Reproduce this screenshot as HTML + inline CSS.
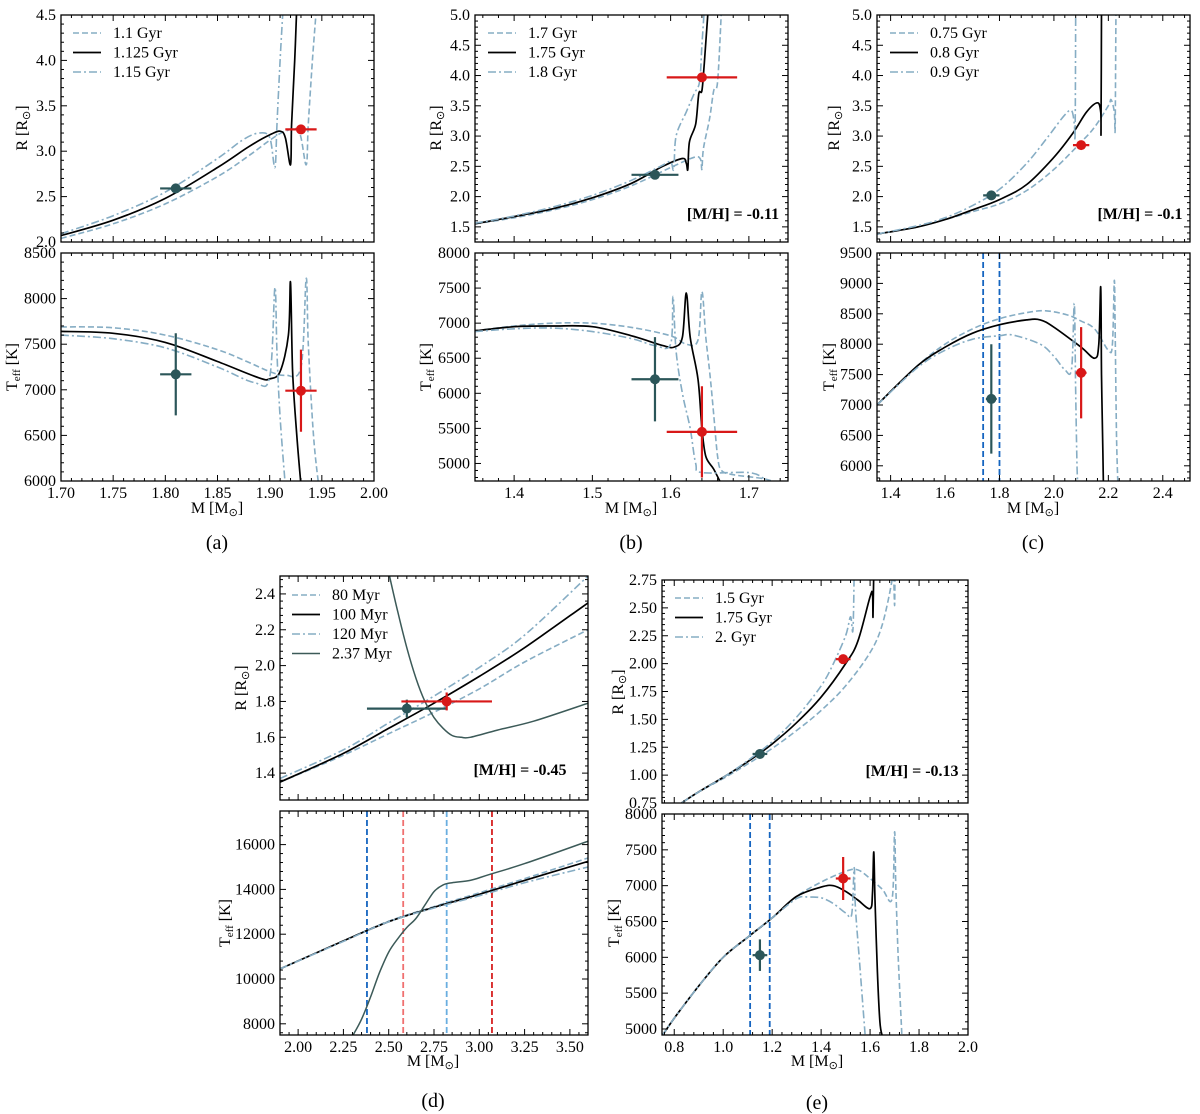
<!DOCTYPE html>
<html><head><meta charset="utf-8">
<style>
body{margin:0;background:#fff;}
svg{display:block;font-family:"Liberation Serif",serif;}
</style></head>
<body>
<svg id="fig" width="1200" height="1114" viewBox="0 0 1200 1114" xmlns="http://www.w3.org/2000/svg"></svg>
<script>
// ===== Panel (a) data =====
const a_legend = ["1.1 Gyr","1.125 Gyr","1.15 Gyr"];
const a_R_dash = [[1.70,2.04],[1.75,2.2],[1.80,2.42],[1.85,2.72],[1.88,2.95],[1.90,3.12],[1.915,3.22],[1.928,3.22],[1.935,2.85],[1.937,3.3],[1.941,4.0],[1.945,4.6]];
const a_R_solid = [[1.70,2.07],[1.75,2.24],[1.80,2.48],[1.85,2.82],[1.88,3.05],[1.90,3.18],[1.91,3.22],[1.915,3.15],[1.92,2.85],[1.921,3.3],[1.924,4.0],[1.926,4.6]];
const a_R_dashdot = [[1.70,2.09],[1.75,2.29],[1.80,2.55],[1.85,2.92],[1.875,3.13],[1.89,3.2],[1.90,3.15],[1.905,2.82],[1.907,3.3],[1.91,4.0],[1.913,4.6]];
const a_T_dash = [[1.70,7690],[1.75,7680],[1.80,7600],[1.85,7440],[1.88,7300],[1.90,7200],[1.915,7160],[1.93,7250],[1.935,8220],[1.937,7500],[1.942,6500],[1.947,5950]];
const a_T_solid = [[1.70,7640],[1.75,7620],[1.80,7520],[1.85,7310],[1.89,7130],[1.90,7120],[1.91,7200],[1.918,7600],[1.92,8180],[1.922,7200],[1.926,6500],[1.93,5950]];
const a_T_dashdot = [[1.70,7600],[1.75,7560],[1.80,7460],[1.85,7250],[1.885,7080],[1.90,7140],[1.905,8120],[1.907,7400],[1.91,6700],[1.915,5950]];
const a_R_pts = [[1.81,2.59,0.015,0.02],[1.93,3.24,0.015,0.02]];
const a_T_pts = [[1.81,7170,0.015,450],[1.93,6990,0.015,450]];
// ===== Panel (b) data =====
const b_legend = ["1.7 Gyr","1.75 Gyr","1.8 Gyr"];
const b_R_dash = [[1.35,1.55],[1.4,1.65],[1.45,1.78],[1.5,1.95],[1.55,2.18],[1.60,2.48],[1.63,2.65],[1.638,2.62],[1.64,2.45],[1.642,2.8],[1.65,3.3],[1.655,3.75],[1.66,3.9],[1.665,5.1]];
const b_R_solid = [[1.35,1.55],[1.4,1.67],[1.45,1.8],[1.5,1.98],[1.55,2.22],[1.59,2.5],[1.615,2.63],[1.62,2.55],[1.622,2.45],[1.624,2.9],[1.632,3.2],[1.636,3.7],[1.64,3.75],[1.643,4.2],[1.648,5.1]];
const b_R_dashdot = [[1.35,1.56],[1.4,1.68],[1.45,1.83],[1.5,2.02],[1.55,2.27],[1.59,2.52],[1.60,2.58],[1.604,2.45],[1.607,3.0],[1.62,3.4],[1.63,3.7],[1.637,3.9],[1.64,4.5],[1.643,5.1]];
const b_T_dash = [[1.35,6890],[1.4,6960],[1.45,7000],[1.5,7000],[1.55,6940],[1.6,6820],[1.62,6700],[1.635,6760],[1.64,7450],[1.645,6800],[1.65,6300],[1.655,5700],[1.66,5100],[1.665,4900],[1.68,4840],[1.72,4780],[1.74,4700]];
const b_T_solid = [[1.35,6890],[1.4,6950],[1.45,6960],[1.5,6950],[1.55,6820],[1.59,6680],[1.605,6660],[1.615,6800],[1.62,7430],[1.625,6800],[1.635,6200],[1.64,5500],[1.645,5100],[1.655,4920],[1.665,4700]];
const b_T_dashdot = [[1.35,6880],[1.4,6920],[1.45,6930],[1.5,6880],[1.55,6780],[1.58,6680],[1.60,6700],[1.603,7380],[1.607,6600],[1.615,6000],[1.625,5500],[1.632,5000],[1.64,4870],[1.7,4870],[1.72,4780]];
const b_R_pts = [[1.58,2.36,0.03,0.03],[1.64,3.97,0.045,0.03]];
const b_T_pts = [[1.58,6200,0.03,600],[1.64,5450,0.045,650]];
// ===== Panel (c) data =====
const c_legend = ["0.75 Gyr","0.8 Gyr","0.9 Gyr"];
const c_R_dash = [[1.35,1.38],[1.5,1.5],[1.6,1.62],[1.7,1.75],[1.8,1.88],[1.9,2.1],[2.0,2.45],[2.1,2.9],[2.15,3.15],[2.2,3.5],[2.21,3.6],[2.222,3.4],[2.225,3.15],[2.228,5.1]];
const c_R_solid = [[1.35,1.38],[1.5,1.5],[1.6,1.62],[1.7,1.78],[1.8,1.95],[1.9,2.2],[2.0,2.65],[2.07,3.05],[2.12,3.4],[2.16,3.55],[2.172,3.4],[2.173,3.1],[2.175,5.1]];
const c_R_dashdot = [[1.35,1.38],[1.5,1.52],[1.6,1.65],[1.7,1.85],[1.8,2.12],[1.9,2.55],[1.98,3.0],[2.04,3.35],[2.065,3.42],[2.075,3.2],[2.078,3.05],[2.08,5.1]];
const c_T_dash = [[1.35,7000],[1.5,7650],[1.6,8000],[1.7,8250],[1.8,8420],[1.9,8520],[1.97,8550],[2.05,8480],[2.1,8380],[2.15,8250],[2.2,7900],[2.215,8000],[2.222,9050],[2.225,8200],[2.23,6500],[2.235,5700]];
const c_T_solid = [[1.35,7000],[1.5,7650],[1.6,7950],[1.7,8180],[1.8,8320],[1.9,8400],[1.95,8400],[2.0,8280],[2.1,7950],[2.15,7770],[2.165,8000],[2.172,8940],[2.175,7500],[2.18,6200],[2.182,5700]];
const c_T_dashdot = [[1.35,7000],[1.5,7620],[1.6,7900],[1.7,8080],[1.8,8140],[1.85,8150],[1.95,8000],[2.0,7800],[2.04,7580],[2.065,7600],[2.075,8670],[2.08,7200],[2.085,6000],[2.088,5700]];
const c_R_pts = [[1.77,2.02,0.03,0.03],[2.1,2.85,0.03,0.03]];
const c_T_pts = [[1.77,7100,0.02,900],[2.1,7530,0.02,750]];
const c_vlines = [1.74,1.80];
// ===== Panel (d) data =====
const d_legend = ["80 Myr","100 Myr","120 Myr","2.37 Myr"];
const d_R_dash = [[1.9,1.35],[2.25,1.5],[2.5,1.62],[2.75,1.74],[3.0,1.87],[3.25,2.02],[3.6,2.2]];
const d_R_solid = [[1.9,1.35],[2.25,1.51],[2.5,1.65],[2.75,1.79],[3.0,1.94],[3.25,2.1],[3.6,2.35]];
const d_R_dashdot = [[1.9,1.37],[2.25,1.53],[2.5,1.68],[2.75,1.83],[3.0,1.99],[3.25,2.17],[3.6,2.5]];
const d_R_young = [[2.5,2.52],[2.55,2.3],[2.6,2.1],[2.65,1.93],[2.7,1.8],[2.75,1.71],[2.8,1.65],[2.85,1.61],[2.9,1.6],[2.95,1.6],[3.1,1.64],[3.3,1.69],[3.6,1.79]];
const d_T_dash = [[1.9,10450],[2.25,11700],[2.5,12580],[2.75,13230],[3.0,13850],[3.25,14480],[3.6,15400]];
const d_T_solid = [[1.9,10450],[2.25,11700],[2.5,12560],[2.75,13200],[3.0,13780],[3.25,14400],[3.6,15250]];
const d_T_dashdot = [[1.9,10450],[2.25,11680],[2.5,12560],[2.75,13170],[3.0,13720],[3.25,14300],[3.6,15000]];
const d_T_young = [[2.3,7450],[2.35,8200],[2.4,9200],[2.45,10300],[2.5,11200],[2.55,11800],[2.6,12300],[2.65,12700],[2.7,13300],[2.75,13900],[2.8,14200],[2.85,14300],[2.95,14400],[3.05,14650],[3.25,15150],[3.6,16150]];
const d_R_pts = [[2.6,1.76,0.22,0.05],[2.82,1.80,0.25,0.05]];
const d_vlines = [2.38,2.58,2.82,3.07];
const d_vcolors = ["#1565c0","#f07070","#6aaee0","#d62020"];
// ===== Panel (e) data =====
const e_legend = ["1.5 Gyr","1.75 Gyr","2. Gyr"];
const e_R_dash = [[0.83,0.75],[0.9,0.85],[1.0,0.97],[1.1,1.1],[1.2,1.24],[1.3,1.4],[1.4,1.58],[1.5,1.8],[1.6,2.1],[1.65,2.35],[1.69,2.75],[1.695,2.9],[1.70,2.52],[1.702,2.9]];
const e_R_solid = [[0.83,0.75],[0.9,0.85],[1.0,0.98],[1.1,1.12],[1.2,1.28],[1.3,1.47],[1.4,1.7],[1.5,2.0],[1.55,2.2],[1.6,2.6],[1.61,2.62],[1.612,2.42],[1.615,2.85]];
const e_R_dashdot = [[0.83,0.75],[0.9,0.85],[1.0,0.98],[1.1,1.13],[1.2,1.3],[1.3,1.52],[1.4,1.8],[1.45,2.0],[1.5,2.25],[1.52,2.42],[1.53,2.3],[1.535,2.85]];
const e_T_dash = [[0.75,4900],[0.8,5150],[0.9,5600],[1.0,6000],[1.1,6280],[1.2,6550],[1.3,6850],[1.4,7050],[1.5,7200],[1.55,7220],[1.6,7100],[1.65,6950],[1.69,6820],[1.70,7750],[1.705,7000],[1.715,6000],[1.73,4900]];
const e_T_solid = [[0.75,4900],[0.8,5150],[0.9,5600],[1.0,6000],[1.1,6280],[1.2,6550],[1.3,6850],[1.4,6980],[1.45,7000],[1.5,6920],[1.55,6800],[1.6,6680],[1.61,6900],[1.615,7470],[1.62,6800],[1.63,5800],[1.64,5100],[1.65,4900]];
const e_T_dashdot = [[0.75,4900],[0.8,5150],[0.9,5600],[1.0,6000],[1.1,6280],[1.2,6550],[1.3,6820],[1.35,6840],[1.4,6830],[1.45,6750],[1.5,6620],[1.525,6600],[1.535,7250],[1.54,6700],[1.56,5800],[1.58,4900]];
const e_R_pts = [[1.15,1.19,0.03,0.02],[1.49,2.04,0.03,0.02]];
const e_T_pts = [[1.15,6030,0.03,220],[1.49,7100,0.03,300]];
const e_vlines = [1.11,1.19];

const NS="http://www.w3.org/2000/svg";
const svg=document.getElementById('fig');
const LB="#86adc4", TEAL="#2b5659", RED="#d81818";
const FS=16;
let clipId=0;
function mk(tag,attrs,parent){const e=document.createElementNS(NS,tag);for(const k in attrs)e.setAttribute(k,attrs[k]);(parent||svg).appendChild(e);return e;}

function axes(name,box,xr,yr,xmaj,xmin,ymaj,ymin,yfmt,showX,xfmt){
  const g=mk('g',{});
  
  
  const sx=v=>box.x0+(v-xr[0])/(xr[1]-xr[0])*(box.x1-box.x0);
  const sy=v=>box.y1-(v-yr[0])/(yr[1]-yr[0])*(box.y1-box.y0);
  const id='c'+(clipId++);
  const cp=mk('clipPath',{id:id},g);
  mk('rect',{x:box.x0,y:box.y0,width:box.x1-box.x0,height:box.y1-box.y0},cp);
  const plot=mk('g',{'clip-path':'url(#'+id+')'},g);
  const tk=mk('g',{stroke:'#000','stroke-width':1},g);
  const eps=1e-9;
  for(let v=Math.ceil((xr[0]-eps)/xmin)*xmin;v<=xr[1]+eps;v+=xmin){
    const major=Math.abs(v/xmaj-Math.round(v/xmaj))<1e-6;const L=major?6:3;const x=sx(v);
    mk('line',{x1:x,x2:x,y1:box.y1,y2:box.y1-L},tk);mk('line',{x1:x,x2:x,y1:box.y0,y2:box.y0+L},tk);
    if(major&&showX){const t=mk('text',{x:x,y:box.y1+17,'text-anchor':'middle','font-size':FS},g);t.textContent=xfmt(v);
      
      }
  }
  for(let v=Math.ceil((yr[0]-eps)/ymin)*ymin;v<=yr[1]+eps;v+=ymin){
    const major=Math.abs(v/ymaj-Math.round(v/ymaj))<1e-6;const L=major?6:3;const y=sy(v);
    mk('line',{x1:box.x0,x2:box.x0+L,y1:y,y2:y},tk);mk('line',{x1:box.x1,x2:box.x1-L,y1:y,y2:y},tk);
    if(major){const t=mk('text',{x:box.x0-5,y:y+5,'text-anchor':'end','font-size':FS},g);t.textContent=yfmt(v);
      
      }
  }
  mk('rect',{x:box.x0,y:box.y0,width:box.x1-box.x0,height:box.y1-box.y0,fill:'none',stroke:'#000','stroke-width':1.3},g);
  return {g,plot,sx,sy,box};
}
function smoothPath(P){
  let d='M'+P[0][0].toFixed(1)+','+P[0][1].toFixed(1);
  for(let i=0;i<P.length-1;i++){
    const p0=P[Math.max(0,i-1)],p1=P[i],p2=P[i+1],p3=P[Math.min(P.length-1,i+2)];
    const k=1/6;
    const c1=[p1[0]+(p2[0]-p0[0])*k,p1[1]+(p2[1]-p0[1])*k];
    const c2=[p2[0]-(p3[0]-p1[0])*k,p2[1]-(p3[1]-p1[1])*k];
    d+='C'+c1[0].toFixed(1)+','+c1[1].toFixed(1)+' '+c2[0].toFixed(1)+','+c2[1].toFixed(1)+' '+p2[0].toFixed(1)+','+p2[1].toFixed(1);
  }
  return d;
}
function series(ax,data,style,name){
  const P=data.map(p=>[ax.sx(p[0]),ax.sy(p[1])]);
  const p=mk('path',Object.assign({d:smoothPath(P),fill:'none','stroke-linejoin':'round'},style),ax.plot);
  
  
}
const ST={dash:{stroke:LB,'stroke-width':1.6,'stroke-dasharray':'6,3'},solid:{stroke:'#000','stroke-width':1.7},dashdot:{stroke:LB,'stroke-width':1.6,'stroke-dasharray':'8,3,2,3'},young:{stroke:'#3c5a58','stroke-width':1.5}};
function points(ax,pts){
  const cols=[TEAL,RED];
  pts.forEach((p,i)=>{
    const g=mk('g',{stroke:cols[i],'stroke-width':2.2},ax.plot);
    
    
    mk('line',{x1:ax.sx(p[0]-p[2]),x2:ax.sx(p[0]+p[2]),y1:ax.sy(p[1]),y2:ax.sy(p[1])},g);
    mk('line',{x1:ax.sx(p[0]),x2:ax.sx(p[0]),y1:ax.sy(p[1]-p[3]),y2:ax.sy(p[1]+p[3])},g);
    mk('circle',{cx:ax.sx(p[0]),cy:ax.sy(p[1]),r:5,fill:cols[i],stroke:'none'},g);
  });
}
function vlines(ax,xs,cols){
  xs.forEach((v,i)=>{
    const l=mk('line',{x1:ax.sx(v),x2:ax.sx(v),y1:ax.box.y0,y2:ax.box.y1,stroke:cols?cols[i]:'#1565c0','stroke-width':1.8,'stroke-dasharray':'6,3'},ax.plot);
    
    
  });
}
function legend(x,y,labels,styles){
  const g=mk('g',{});
  
  
  labels.forEach((lab,i)=>{
    const yy=y+i*19.5;
    mk('line',Object.assign({x1:x,x2:x+28,y1:yy,y2:yy},styles[i]),g);
    const t=mk('text',{x:x+40,y:yy+5,'font-size':FS},g);t.textContent=lab;
    
    
  });
}
function text(x,y,s,size,opts,name){
  const t=mk('text',Object.assign({x:x,y:y,'font-size':size,'text-anchor':'middle'},opts||{}));
  t.textContent=s;
  
  
  return t;
}
function ylab(x,y,kind){
  const t=mk('text',{x:0,y:0,'font-size':FS,'text-anchor':'middle',transform:'translate('+x+','+y+') rotate(-90)'});
  
  
  if(kind==='R'){t.innerHTML='R [R<tspan font-size="11" dy="3">⊙</tspan><tspan dy="-3">]</tspan>';}
  else{t.innerHTML='T<tspan font-size="11" dy="3">eff</tspan><tspan dy="-3"> [K]</tspan>';}
}
function xlab(x,y){
  const t=mk('text',{x:x,y:y,'font-size':FS,'text-anchor':'middle'});
  
  
  t.innerHTML='M [M<tspan font-size="11" dy="3">⊙</tspan><tspan dy="-3">]</tspan>';
}
const f1=v=>v.toFixed(1), f2=v=>v.toFixed(2), f0=v=>Math.round(v).toString();

// ---- Panel (a)
{const X={x0:61,x1:374};
 const t=axes('panel-a-radius',{...X,y0:15,y1:242},[1.7,2.0],[2.0,4.5],0.05,0.01,0.5,0.1,f1,false);
 series(t,a_R_dash,ST.dash,'iso-1.1gyr');series(t,a_R_solid,ST.solid,'iso-1.125gyr');series(t,a_R_dashdot,ST.dashdot,'iso-1.15gyr');points(t,a_R_pts);
 const b=axes('panel-a-teff',{...X,y0:253,y1:481},[1.7,2.0],[6000,8500],0.05,0.01,500,100,f0,true,f2);
 series(b,a_T_dash,ST.dash,'iso-1.1gyr');series(b,a_T_solid,ST.solid,'iso-1.125gyr');series(b,a_T_dashdot,ST.dashdot,'iso-1.15gyr');points(b,a_T_pts);
 legend(73,33,a_legend,[ST.dash,ST.solid,ST.dashdot]);
 ylab(27,128,'R');ylab(17,367,'T');xlab(217,513);text(217,549,'(a)',20,{},'caption-a');}
// ---- Panel (b)
{const X={x0:475,x1:788};
 const t=axes('panel-b-radius',{...X,y0:15,y1:242},[1.35,1.75],[1.25,5.0],0.1,0.02,0.5,0.1,f1,false);
 series(t,b_R_dash,ST.dash,'iso-1.7gyr');series(t,b_R_solid,ST.solid,'iso-1.75gyr');series(t,b_R_dashdot,ST.dashdot,'iso-1.8gyr');points(t,b_R_pts);
 const b=axes('panel-b-teff',{...X,y0:253,y1:481},[1.35,1.75],[4750,8000],0.1,0.02,500,100,f0,true,f1);
 series(b,b_T_dash,ST.dash,'iso-1.7gyr');series(b,b_T_solid,ST.solid,'iso-1.75gyr');series(b,b_T_dashdot,ST.dashdot,'iso-1.8gyr');points(b,b_T_pts);
 legend(488,33,b_legend,[ST.dash,ST.solid,ST.dashdot]);
 text(733,219,'[M/H] = -0.11',FS,{'font-weight':'bold'},'metallicity-label-b');
 ylab(441,128,'R');ylab(431,367,'T');xlab(631,513);text(631,549,'(b)',20,{},'caption-b');}
// ---- Panel (c)
{const X={x0:877,x1:1190};
 const t=axes('panel-c-radius',{...X,y0:15,y1:242},[1.35,2.5],[1.25,5.0],0.2,0.04,0.5,0.1,f1,false);
 series(t,c_R_dash,ST.dash,'iso-0.75gyr');series(t,c_R_solid,ST.solid,'iso-0.8gyr');series(t,c_R_dashdot,ST.dashdot,'iso-0.9gyr');points(t,c_R_pts);
 const b=axes('panel-c-teff',{...X,y0:253,y1:481},[1.35,2.5],[5750,9500],0.2,0.04,500,100,f0,true,f1);
 vlines(b,c_vlines);
 series(b,c_T_dash,ST.dash,'iso-0.75gyr');series(b,c_T_solid,ST.solid,'iso-0.8gyr');series(b,c_T_dashdot,ST.dashdot,'iso-0.9gyr');points(b,c_T_pts);
 legend(890,33,c_legend,[ST.dash,ST.solid,ST.dashdot]);
 text(1140,219,'[M/H] = -0.1',FS,{'font-weight':'bold'},'metallicity-label-c');
 ylab(839,128,'R');ylab(834,367,'T');xlab(1033,513);text(1033,549,'(c)',20,{},'caption-c');}
// ---- Panel (d)
{const X={x0:280,x1:588};
 const t=axes('panel-d-radius',{...X,y0:576,y1:800},[1.9,3.6],[1.25,2.5],0.25,0.05,0.2,0.04,f1,false);
 series(t,d_R_dash,ST.dash,'iso-80myr');series(t,d_R_solid,ST.solid,'iso-100myr');series(t,d_R_dashdot,ST.dashdot,'iso-120myr');series(t,d_R_young,ST.young,'iso-2.37myr');points(t,d_R_pts);
 const b=axes('panel-d-teff',{...X,y0:811,y1:1035},[1.9,3.6],[7500,17500],0.25,0.05,2000,400,f0,true,f2);
 vlines(b,d_vlines,d_vcolors);
 series(b,d_T_dash,ST.dash,'iso-80myr');series(b,d_T_solid,ST.solid,'iso-100myr');series(b,d_T_dashdot,ST.dashdot,'iso-120myr');series(b,d_T_young,ST.young,'iso-2.37myr');
 legend(292,595,d_legend,[ST.dash,ST.solid,ST.dashdot,ST.young]);
 text(520,775,'[M/H] = -0.45',FS,{'font-weight':'bold'},'metallicity-label-d');
 ylab(246,688,'R');ylab(230,923,'T');xlab(433,1066);text(433,1107,'(d)',20,{},'caption-d');}
// ---- Panel (e)
{const X={x0:662,x1:968};
 const t=axes('panel-e-radius',{...X,y0:580,y1:803},[0.75,2.0],[0.75,2.75],0.2,0.04,0.25,0.05,f2,false);
 series(t,e_R_dash,ST.dash,'iso-1.5gyr');series(t,e_R_solid,ST.solid,'iso-1.75gyr');series(t,e_R_dashdot,ST.dashdot,'iso-2gyr');points(t,e_R_pts);
 const b=axes('panel-e-teff',{...X,y0:814,y1:1035},[0.75,2.0],[4916,8000],0.2,0.04,500,100,f0,true,f1);
 vlines(b,e_vlines);
 series(b,e_T_dash,ST.dash,'iso-1.5gyr');series(b,e_T_solid,ST.solid,'iso-1.75gyr');series(b,e_T_dashdot,ST.dashdot,'iso-2gyr');points(b,e_T_pts);
 legend(675,598,e_legend,[ST.dash,ST.solid,ST.dashdot]);
 text(912,776,'[M/H] = -0.13',FS,{'font-weight':'bold'},'metallicity-label-e');
 ylab(623,692,'R');ylab(619,923,'T');xlab(817,1066);text(817,1109,'(e)',20,{},'caption-e');}
</script>
</body></html>
